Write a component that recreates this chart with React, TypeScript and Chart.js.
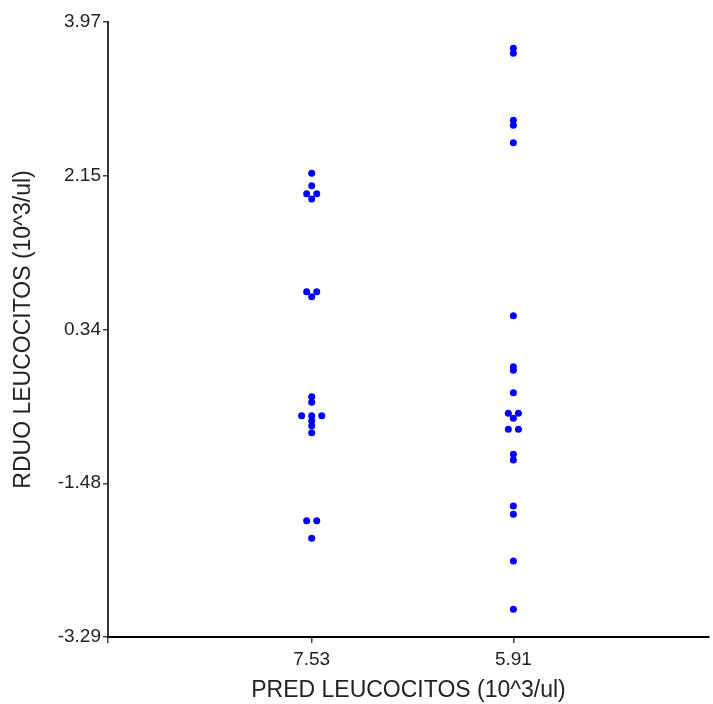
import React, { useEffect, useRef } from "react";
import { Chart, registerables } from "chart.js";

Chart.register(...registerables);

const categories = ["7.53", "5.91"];
const yTickValues = [-3.29, -1.475, 0.34, 2.155, 3.97];
const yTickLabels = ["-3.29", "-1.48", "0.34", "2.15", "3.97"];

// residuals for category "7.53"
const group1Values = [2.184, 2.038, 1.943, 1.943, 1.881, 0.786, 0.786, 0.727, -0.453, -0.519, -0.678, -0.678, -0.678, -0.737, -0.796, -0.878, -1.917, -1.917, -2.125];
const group1Jitter = [0, 0, -1, 1, 0, -1, 1, 0, 0, 0, -2, 0, 2, 0, 0, 0, -1, 1, 0];

// residuals for category "5.91"
const group2Values = [3.66, 3.6, 2.81, 2.751, 2.545, 0.503, -0.099, -0.142, -0.406, -0.649, -0.649, -0.708, -0.838, -0.838, -1.133, -1.201, -1.744, -1.842, -2.393, -2.963];
const group2Jitter = [0, 0, 0, 0, 0, 0, 0, 0, 0, -1, 1, 0, -1, 1, 0, 0, 0, 0, 0, 0];

const JITTER_STEP = 0.025;
const X_MIN = -0.01;
const X_MAX = 2.97;

export default function App() {
  const ref = useRef<HTMLCanvasElement | null>(null);

  useEffect(() => {
    document.body.style.margin = "0";
    if (!ref.current) return;
    const pts = [
      ...group1Values.map((v, i) => ({ x: 1 + group1Jitter[i] * JITTER_STEP, y: v })),
      ...group2Values.map((v, i) => ({ x: 2 + group2Jitter[i] * JITTER_STEP, y: v })),
    ];
    const font = "'Liberation Sans', Arial, sans-serif";
    const chart = new Chart(ref.current, {
      type: "scatter",
      data: {
        datasets: [
          {
            data: pts,
            backgroundColor: "#0000ff",
            borderColor: "#0000ff",
            borderWidth: 0,
            pointRadius: 3.5,
          },
        ],
      },
      options: {
        animation: false,
        responsive: false,
        layout: { padding: { top: 22, right: 0, left: 0, bottom: 0 } },
        plugins: { legend: { display: false }, tooltip: { enabled: false } },
        scales: {
          x: {
            type: "linear",
            min: X_MIN,
            max: X_MAX,
            afterBuildTicks: (s: any) => {
              s.ticks = [X_MIN, 1, 2].map((v) => ({ value: v }));
            },
            afterFit: (s: any) => {
              s.height = 67;
            },
            ticks: {
              autoSkip: false,
              maxRotation: 0,
              padding: 5,
              color: "#222",
              font: { family: font, size: 19 },
              callback: (v: any) => (v === 1 ? categories[0] : v === 2 ? categories[1] : ""),
            },
            grid: { drawOnChartArea: false, drawTicks: true, tickLength: 6, color: "#444", lineWidth: 1.5 },
            border: { display: true, color: "#000", width: 2 },
            title: {
              display: true,
              text: "PRED LEUCOCITOS (10^3/ul)",
              color: "#222",
              font: { family: font, size: 23 },
              padding: { top: 0, bottom: 0 },
            },
          },
          y: {
            type: "linear",
            min: -3.29,
            max: 3.97,
            afterBuildTicks: (s: any) => {
              s.ticks = yTickValues.map((v) => ({ value: v }));
            },
            afterFit: (s: any) => {
              s.width = 108;
            },
            ticks: {
              autoSkip: false,
              padding: 2,
              color: "#222",
              font: { family: font, size: 19 },
              callback: (_v: any, i: number) => yTickLabels[i],
            },
            grid: { drawOnChartArea: false, drawTicks: true, tickLength: 5, color: "#444", lineWidth: 1.5 },
            border: { display: true, color: "#333", width: 2 },
            title: {
              display: true,
              text: "RDUO LEUCOCITOS (10^3/ul)",
              color: "#222",
              font: { family: font, size: 23 },
              padding: { top: 10, bottom: 0 },
            },
          },
        },
      },
    });
    return () => chart.destroy();
  }, []);

  return <canvas ref={ref} width={713} height={704} style={{ display: "block" }} />;
}
